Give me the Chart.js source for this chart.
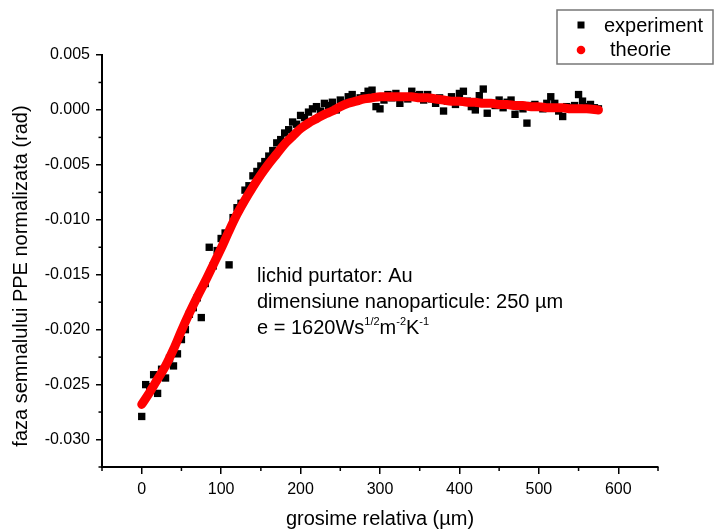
<!DOCTYPE html>
<html><head><meta charset="utf-8">
<script src="https://cdn.jsdelivr.net/npm/chart.js@4.4.1/dist/chart.umd.min.js"></script>
<style>html,body{margin:0;padding:0;background:#fff;}canvas{display:block;}</style>
</head><body>
<canvas id="c" width="714" height="531"></canvas>
<script>
// ---- data ----
const expX = [0,5,10,15,20,25,30,35,40,45,50,55,60,65,70,75,80,85,90,95,
  100,105,110,115,120,125,130,135,140,145,150,155,160,165,170,175,180,185,190,195,
  200,205,210,215,220,225,230,235,240,245,250,255,260,265,270,275,280,285,290,295,
  300,305,310,315,320,325,330,335,340,345,350,355,360,365,370,375,380,385,390,395,
  400,405,410,415,420,425,430,435,440,445,450,455,460,465,470,475,480,485,490,495,
  500,505,510,515,520,525,530,535,540,545,550,555,560,565,570,575];
const expY = [-0.0279,-0.0250,-0.0252,-0.0241,-0.0258,-0.0236,-0.0244,-0.0226,-0.0233,-0.0222,
  -0.0209,-0.0200,-0.0186,-0.0180,-0.0171,-0.0189,-0.0158,-0.0125,-0.0142,-0.0128,
  -0.0117,-0.0112,-0.0141,-0.0098,-0.0089,-0.0085,-0.0073,-0.0069,-0.0060,-0.0056,
  -0.0051,-0.0047,-0.0042,-0.0037,-0.0030,-0.0027,-0.0021,-0.0018,-0.0011,-0.0013,
  -0.0005,-0.0007,-0.0002,0.0001,0.0003,-0.0001,0.0006,0.0004,0.0007,0.0000,
  0.0009,0.0006,0.0012,0.0014,0.0008,0.0011,0.0013,0.0017,0.0018,0.0003,
  0.0001,0.0009,0.0014,0.0011,0.0015,0.0006,0.0012,0.0010,0.0017,0.0013,
  0.0014,0.0009,0.0014,0.0010,0.0006,0.0011,-0.0001,0.0008,0.0012,0.0005,
  0.0015,0.0017,0.0008,0.0003,0.0000,0.0013,0.0019,-0.0003,0.0006,0.0004,
  0.0009,0.0002,0.0007,0.0009,-0.0004,0.0003,0.0001,-0.0012,0.0004,0.0005,
  0.0003,0.0001,0.0006,0.0012,0.0006,-0.0001,-0.0006,0.0003,0.0002,0.0004,
  0.0014,0.0008,0.0003,0.0005,0.0002,0.0001];
const theoX = [0,10,20,30,40,50,60,70,80,90,100,110,120,130,140,150,160,170,180,190,
  200,210,220,230,240,250,260,270,280,290,300,310,320,330,340,350,360,370,380,390,
  400,410,420,430,440,450,460,470,480,490,500,510,520,530,540,550,560,575];
const theoY = [-0.0268,-0.0257,-0.0245,-0.0233,-0.0218,-0.0201,-0.0185,-0.0170,-0.0156,-0.0141,
  -0.0126,-0.0110,-0.0095,-0.0082,-0.0070,-0.0059,-0.0049,-0.0040,-0.0031,-0.0024,
  -0.0017,-0.0012,-0.0008,-0.0004,-0.0001,0.0003,0.0006,0.0008,0.0010,0.0011,
  0.0012,0.0012,0.0012,0.0012,0.0012,0.0011,0.0011,0.0010,0.0009,0.0008,
  0.0008,0.0007,0.0007,0.0006,0.0006,0.0005,0.0005,0.0004,0.0004,0.0003,
  0.0003,0.0002,0.0002,0.0002,0.0001,0.0001,0.0001,0.0000];
const xTicks = [0,100,200,300,400,500,600];
const xMinor = [-50,50,150,250,350,450,550,650];
const yTicks = [-0.030,-0.025,-0.020,-0.015,-0.010,-0.005,0.000,0.005];
const yMinor = [-0.0325,-0.0275,-0.0225,-0.0175,-0.0125,-0.0075,-0.0025,0.0025];
const xTitle = 'grosime relativa (\u00b5m)';
const yTitle = 'faza semnalului PPE normalizata (rad)';
const legendLabels = ['experiment','theorie'];
const noteLines = ['lichid purtator: Au','dimensiune nanoparticule: 250 \u00b5m'];

const FONT = '"Liberation Sans", Arial, sans-serif';

const extras = {
  id:'extras',
  afterDraw(chart){
    const ctx = chart.ctx, xs = chart.scales.x, ys = chart.scales.y;
    const ca = chart.chartArea;
    ctx.save();
    ctx.strokeStyle = '#000'; ctx.lineWidth = 1.5;
    // minor ticks
    xMinor.forEach(v=>{const p=xs.getPixelForValue(v);ctx.beginPath();ctx.moveTo(p,ca.bottom);ctx.lineTo(p,ca.bottom+4);ctx.stroke();});
    yMinor.forEach(v=>{const p=ys.getPixelForValue(v);ctx.beginPath();ctx.moveTo(ca.left-3.5,p);ctx.lineTo(ca.left,p);ctx.stroke();});
    // y title
    ctx.fillStyle='#000';
    ctx.save();
    ctx.translate(21,276); ctx.rotate(-Math.PI/2);
    ctx.font = '20px '+FONT; ctx.textAlign='center'; ctx.textBaseline='middle';
    ctx.fillText(yTitle,0,0);
    ctx.restore();
    // annotation
    ctx.font = '20px '+FONT; ctx.textAlign='left'; ctx.textBaseline='alphabetic';
    ctx.fillText(noteLines[0],257,282);
    ctx.fillText(noteLines[1],257,307.5);
    let x=257, y=334;
    const parts=[['e = 1620Ws',0],['1/2',1],['m',0],['-2',1],['K',0],['-1',1]];
    parts.forEach(([t,s])=>{
      if(s){ctx.font='11px '+FONT; ctx.fillText(t,x,y-9);} else {ctx.font='20px '+FONT; ctx.fillText(t,x,y);}
      x+=ctx.measureText(t).width;
    });
    // legend
    ctx.fillStyle='#fff'; ctx.fillRect(557,10,156,54);
    ctx.strokeStyle='#777'; ctx.lineWidth=1.5; ctx.strokeRect(557,10,156,54);
    ctx.fillStyle='#000'; ctx.fillRect(577.5,21.5,7,7);
    ctx.fillStyle='#ff0000'; ctx.beginPath(); ctx.arc(581,50,4.3,0,Math.PI*2); ctx.fill();
    ctx.fillStyle='#000'; ctx.font='20px '+FONT;
    ctx.fillText(legendLabels[0],604,32);
    ctx.fillText(legendLabels[1],610,56);
    ctx.restore();
  }
};

new Chart(document.getElementById('c').getContext('2d'),{
  type:'scatter',
  data:{datasets:[
    {label:legendLabels[1], data:theoX.map((x,i)=>({x:x,y:theoY[i]})), showLine:true,
     borderColor:'#ff0000', backgroundColor:'#ff0000', borderWidth:9, pointRadius:0,
     cubicInterpolationMode:'monotone', borderCapStyle:'round', borderJoinStyle:'round', order:0},
    {label:legendLabels[0], data:expX.map((x,i)=>({x:x,y:expY[i]})), showLine:false,
     pointStyle:'rect', pointRadius:5.2, backgroundColor:'#000', borderWidth:0, order:1}
  ]},
  options:{
    responsive:false, animation:false, events:[],
    layout:{padding:{top:55,right:56,left:0,bottom:0}},
    plugins:{legend:{display:false}, tooltip:{enabled:false}},
    scales:{
      x:{type:'linear', min:-50, max:650,
        afterBuildTicks:s=>{s.ticks=xTicks.map(v=>({value:v}));},
        afterFit:s=>{s.height=64;},
        grid:{display:true, drawOnChartArea:false, drawTicks:true, tickLength:7, color:'#000', lineWidth:1.5},
        border:{display:true, color:'#000', width:2},
        ticks:{font:{family:FONT,size:16}, color:'#000', padding:6, maxRotation:0, autoSkip:false, callback:v=>String(v)},
        title:{display:true, text:xTitle, font:{family:FONT,size:20}, color:'#000', padding:0}
      },
      y:{type:'linear', min:-0.0325, max:0.005,
        afterBuildTicks:s=>{s.ticks=yTicks.map(v=>({value:v}));},
        afterFit:s=>{s.width=102;},
        grid:{display:true, drawOnChartArea:false, drawTicks:true, tickLength:6, color:'#000', lineWidth:1.5},
        border:{display:true, color:'#000', width:2},
        ticks:{font:{family:FONT,size:16}, color:'#000', padding:6, autoSkip:false, callback:v=>Number(v).toFixed(3)},
        title:{display:false}
      }
    }
  },
  plugins:[extras]
});
</script>
</body></html>
